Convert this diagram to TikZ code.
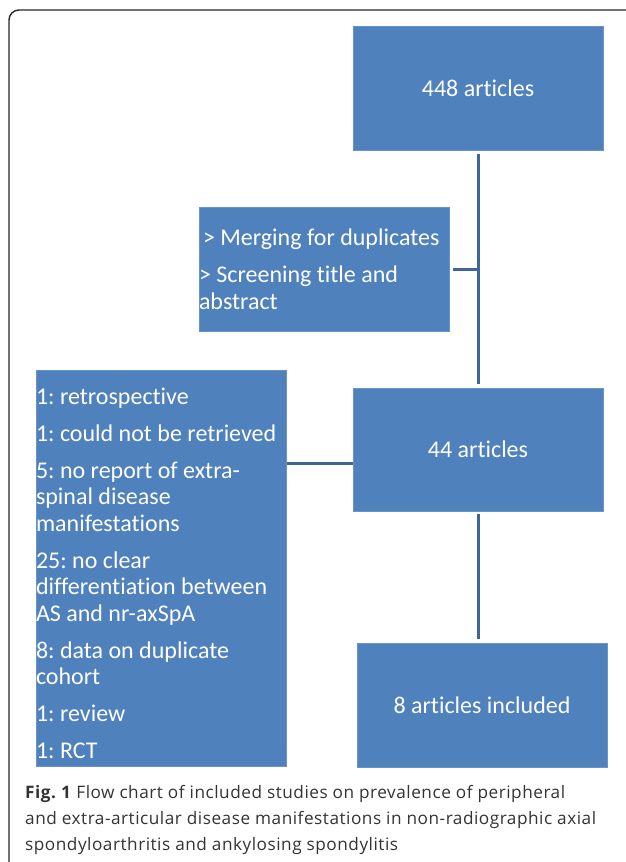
\documentclass[tikz,border=0pt]{standalone}
\usepackage{fontspec}
\setmainfont{Carlito}[Ligatures=NoCommon]
\newfontfamily\capfont{Open Sans}[LetterSpace=3]
\definecolor{boxblue}{HTML}{4F81BD}
\definecolor{boxedge}{HTML}{6A93C6}
\definecolor{linkblue}{HTML}{3E6699}
\frenchspacing

\begin{document}
\begin{tikzpicture}[x=1pt,y=-1pt,
  box/.style={fill=boxblue, draw=boxedge, line width=0.8pt, text=white,
    minimum width=250pt, inner sep=0pt, align=center,
    font=\fontsize{24}{26.5}\selectfont},
  listbox/.style={box, text width=250pt, align=flush left},
  link/.style={draw=linkblue, line width=3pt}]
  \useasboundingbox (0,0) rectangle (625,862);
  % Frame round the figure
  \draw[line width=1.4pt, black!85, rounded corners=10pt] (9,880) -- (9,10) -- (640,10);
  % Boxes
  \node[box, minimum height=124pt] (n448) at (478,88.5) {448 articles};
  \node[listbox, minimum height=124pt] (merge) at (324,269)
    {\hspace{4pt}> Merging for duplicates\\[11pt]> Screening title and\\abstract};
  \node[box, minimum height=123pt] (n44) at (478,449.5) {44 articles};
  \node[listbox, minimum height=396pt] (excl) at (161,568.5)
    {\rule{0pt}{26pt}1: retrospective\\[10.5pt]
     1: could not be retrieved\\[10.5pt]
     5: no report of extra-\\spinal disease\\manifestations\\[10.5pt]
     25: no clear\\differentiation between\\AS and nr-axSpA\\[10.5pt]
     8: data on duplicate\\cohort\\[10.5pt]
     1: review\\[10.5pt]
     1: RCT};
  \node[box, minimum height=124pt] (n8) at (482,705) {8 articles included};
  % Connectors
  \draw[link, shorten <=3pt, shorten >=4pt] (n448.south) -- (n44.north);
  \draw[link, shorten <=4pt] (merge.east) -- (merge.east -| n448.south);
  \draw[link, shorten >=1pt] ([yshift=-13.5pt]n44.west) -- ([yshift=-13.5pt]n44.west -| excl.east);
  \draw[link, shorten <=3pt, shorten >=4pt] (n44.south) -- (n44.south |- n8.north);
  % Caption
  \node[anchor=base west, inner sep=0pt, text width=680pt, align=flush left,
    font=\capfont\fontsize{17.2}{26}\selectfont, text=black!80] (cap) at (25,798)
    {\textbf{Fig. 1} Flow chart of included studies on prevalence of peripheral\\
     and extra-articular disease manifestations in non-radiographic axial\\
     spondyloarthritis and ankylosing spondylitis};
\end{tikzpicture}
\end{document}
